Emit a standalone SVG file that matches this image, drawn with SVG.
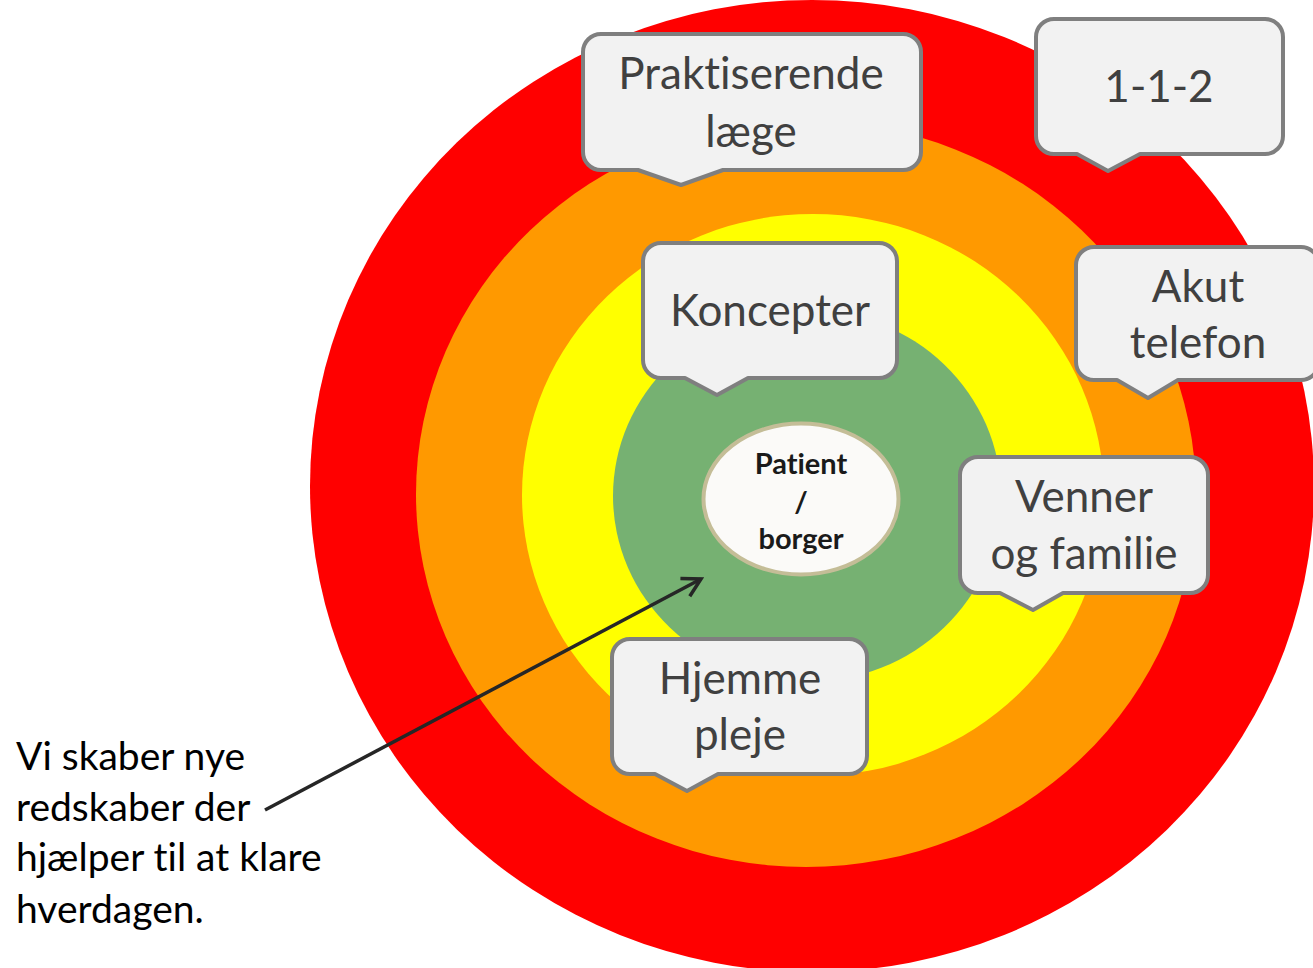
<svg xmlns="http://www.w3.org/2000/svg" width="1313" height="968" viewBox="0 0 1313 968">
<defs>
<style>
text{font-variant-ligatures:none;font-feature-settings:"liga" 0}
.callout{fill:#F2F2F2;stroke:#7F7F7F;stroke-width:4;stroke-linejoin:round}
.ct{font-family:Lato,"Liberation Sans",sans-serif;font-size:44px;fill:#404040;text-anchor:middle}
.pt{font-family:Lato,"Liberation Sans",sans-serif;font-size:29px;font-weight:bold;fill:#1A1A1A;text-anchor:middle}
.lt{font-family:Lato,"Liberation Sans",sans-serif;font-size:39px;fill:#000000}
.conn{fill:none;stroke:#262626;stroke-width:3.5}
</style>
<marker id="arr" viewBox="0 0 24 24" refX="21" refY="12" markerWidth="24" markerHeight="24" markerUnits="userSpaceOnUse" orient="auto">
<path d="M3,2 L21,12 L3,22" fill="none" stroke="#262626" stroke-width="3.5" stroke-linejoin="miter"/>
</marker>
</defs>
<rect width="1313" height="968" fill="#FFFFFF"/>
<g id="rings">
<ellipse cx="812" cy="486" rx="502" ry="486" fill="#FF0000"/>
<ellipse cx="806" cy="494" rx="390" ry="373" fill="#FF9900"/>
<ellipse cx="813" cy="495" rx="291" ry="281" fill="#FFFF00"/>
<ellipse cx="807" cy="496" rx="194" ry="186" fill="#76B172"/>
</g>
<g id="patient">
<ellipse cx="801" cy="499" rx="97.5" ry="75.5" fill="#FBFAF8" stroke="#C4BD97" stroke-width="4"/>
<text class="pt" x="801" y="474">Patient</text>
<text class="pt" x="801" y="512">/</text>
<text class="pt" x="801" y="549">borger</text>
</g>
<g id="connectors">
<line class="conn" x1="265" y1="810" x2="701" y2="579" marker-end="url(#arr)"/>
</g>
<g id="note">
<text class="lt" x="16" y="770">Vi skaber nye</text>
<text class="lt" x="16" y="821">redskaber der</text>
<text class="lt" x="16" y="871">hjælper til at klare</text>
<text class="lt" x="16" y="923">hverdagen.</text>
</g>
<g id="praktiserende">
<path class="callout" d="M601,34 H903 A18,18 0 0 1 921,52 V152 A18,18 0 0 1 903,170 H723 L681,185 L638,170 H601 A18,18 0 0 1 583,152 V52 A18,18 0 0 1 601,34 Z"/>
<text class="ct" x="751" y="89">Praktiserende</text>
<text class="ct" x="751" y="147">læge</text>
</g>
<g id="n112">
<path class="callout" d="M1054,19 H1265 A18,18 0 0 1 1283,37 V136 A18,18 0 0 1 1265,154 H1140 L1108,171 L1077,154 H1054 A18,18 0 0 1 1036,136 V37 A18,18 0 0 1 1054,19 Z"/>
<text class="ct" x="1159" y="102">1-1-2</text>
</g>
<g id="akut">
<path class="callout" d="M1094,247 H1301 A18,18 0 0 1 1319,265 V362 A18,18 0 0 1 1301,380 H1178 L1148,398 L1117,380 H1094 A18,18 0 0 1 1076,362 V265 A18,18 0 0 1 1094,247 Z"/>
<text class="ct" x="1198" y="302">Akut</text>
<text class="ct" x="1198" y="358">telefon</text>
</g>
<g id="koncepter">
<path class="callout" d="M661,243 H879 A18,18 0 0 1 897,261 V360 A18,18 0 0 1 879,378 H748 L717,395 L685,378 H661 A18,18 0 0 1 643,360 V261 A18,18 0 0 1 661,243 Z"/>
<text class="ct" x="770" y="326">Koncepter</text>
</g>
<g id="venner">
<path class="callout" d="M978,457 H1190 A18,18 0 0 1 1208,475 V575 A18,18 0 0 1 1190,593 H1063 L1033,610 L1000,593 H978 A18,18 0 0 1 960,575 V475 A18,18 0 0 1 978,457 Z"/>
<text class="ct" x="1084" y="512">Venner</text>
<text class="ct" x="1084" y="569">og familie</text>
</g>
<g id="hjemme">
<path class="callout" d="M630,639 H849 A18,18 0 0 1 867,657 V756 A18,18 0 0 1 849,774 H718 L687,791 L655,774 H630 A18,18 0 0 1 612,756 V657 A18,18 0 0 1 630,639 Z"/>
<text class="ct" x="740" y="694">Hjemme</text>
<text class="ct" x="740" y="750">pleje</text>
</g>
</svg>
